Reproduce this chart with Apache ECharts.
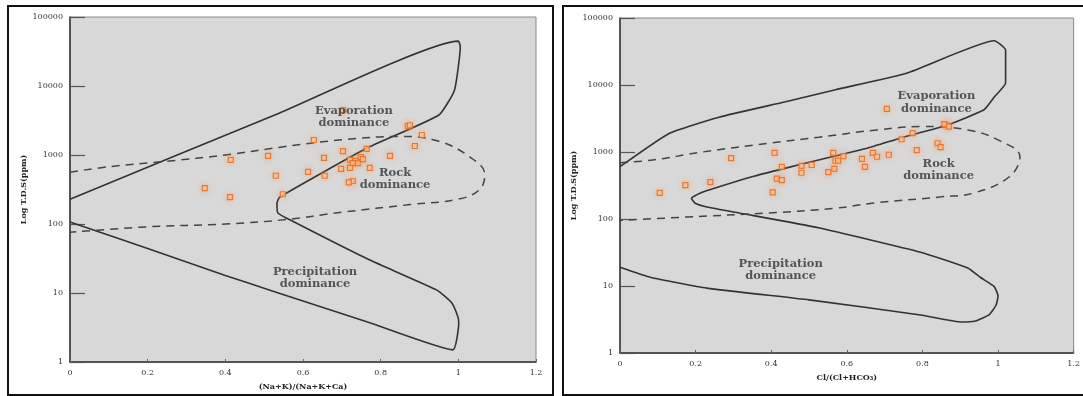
<!DOCTYPE html>
<html>
<head>
<meta charset="utf-8">
<script src="https://cdn.jsdelivr.net/npm/echarts@6/dist/echarts.min.js"></script>
<style>
  html, body { margin: 0; padding: 0; background: #fff; }
  #main { width: 1083px; height: 396px; }
</style>
</head>
<body>
<div id="main"></div>
<script>
// samples - left plot: (Na+K)/(Na+K+Ca) vs TDS
const naRatio = [0.870, 0.875, 0.906, 0.888, 0.628, 0.703, 0.764, 0.824, 0.414, 0.510,
  0.654, 0.721, 0.734, 0.741, 0.728, 0.749, 0.754, 0.698, 0.721, 0.772,
  0.613, 0.530, 0.656, 0.728, 0.718, 0.347, 0.412, 0.548, 0.703];
const tdsNa = [2630, 2700, 1950, 1350, 1650, 1140, 1230, 970, 850, 970,
  910, 850, 820, 760, 760, 930, 870, 630, 650, 650,
  570, 500, 500, 420, 400, 330, 245, 270, 4470];

// samples - right plot: Cl/(Cl+HCO3) vs TDS
const clRatio = [0.294, 0.409, 0.428, 0.480, 0.480, 0.507, 0.564, 0.591, 0.570, 0.577,
  0.567, 0.551, 0.640, 0.648, 0.415, 0.428, 0.404, 0.239, 0.173, 0.105,
  0.706, 0.864, 0.858, 0.870, 0.774, 0.745, 0.840, 0.848, 0.785, 0.669,
  0.680, 0.711];
const tdsCl = [810, 970, 600, 620, 490, 640, 970, 870, 740, 740,
  560, 500, 790, 600, 400, 380, 250, 355, 320, 245,
  4400, 2520, 2600, 2400, 1910, 1550, 1350, 1180, 1070, 970,
  850, 910];

// Gibbs boundaries
const leftBoundX = [0, 0.54, 1.0, 1.005, 0.99, 0.95, 0.765, 0.54, 0.533, 0.535, 0.566, 0.772,
  0.945, 0.983, 0.999, 1.001, 0.986, 0.772, 0.515, 0.4, 0.2, 0];
const leftBoundTds = [229, 4070, 44700, 37200, 8700, 3800, 1260, 245, 200, 145, 115, 30,
  11, 7.2, 4.5, 3.7, 1.5, 3.7, 11, 18, 44, 107];
const leftRockX = [0, 0.1, 0.25, 0.4, 0.55, 0.7, 0.85, 0.95, 1.03, 1.068, 1.055, 1.0,
  0.875, 0.7, 0.55, 0.4, 0.2, 0];
const leftRockTds = [562, 676, 813, 1000, 1318, 1660, 1862, 1585, 933, 525, 316, 229,
  191, 148, 115, 100, 91, 76];

const rightBoundX = [0, 0.131, 0.262, 0.438, 0.57, 0.76, 0.99, 1.02, 1.02, 0.99, 0.963, 0.864,
  0.743, 0.656, 0.525, 0.438, 0.349, 0.262, 0.21, 0.189, 0.2, 0.23, 0.315, 0.525,
  0.795, 0.92, 0.953, 0.99, 1.0, 0.995, 0.976, 0.94, 0.9, 0.866, 0.795, 0.5,
  0.23, 0.08, 0];
const rightBoundTds = [603, 1905, 3311, 5623, 8511, 15136, 45709, 33113, 10715, 6607, 4266, 2512,
  1622, 1148, 759, 575, 427, 302, 240, 204, 170, 151, 123, 74,
  32, 18.6, 13.5, 9.8, 7.1, 5.2, 3.7, 3.0, 2.9, 3.1, 3.7, 6.2,
  9.3, 13.5, 19];
const rightRockX = [0, 0.087, 0.218, 0.394, 0.525, 0.68, 0.8, 0.92, 1.0, 1.058, 1.03, 0.937,
  0.85, 0.675, 0.57, 0.394, 0.175, 0];
const rightRockTds = [692, 759, 1000, 1349, 1660, 2138, 2399, 2138, 1514, 851, 427, 245,
  214, 174, 145, 123, 107, 95];

// region labels
const leftZones = [
  { name: "Evaporation\ndominance", x: 0.731, y: 3550 },
  { name: "Rock\ndominance", x: 0.837, y: 447 },
  { name: "Precipitation\ndominance", x: 0.631, y: 16.5 },
];
const rightZones = [
  { name: "Evaporation\ndominance", x: 0.837, y: 5480 },
  { name: "Rock\ndominance", x: 0.843, y: 540 },
  { name: "Precipitation\ndominance", x: 0.425, y: 17.3 },
];
const yTicks = ["1", "10", "100", "1000", "10000", "100000"];

const zip = (xs, ys) => xs.map((x, i) => [x, ys[i]]);
const serif = "DejaVu Serif";

const chartDom = document.getElementById("main");
const myChart = echarts.init(chartDom, null, { renderer: "canvas" });

const makeX = (idx, name) => ({
  type: "value",
  gridIndex: idx,
  min: 0,
  max: 1.2,
  interval: 0.2,
  name: name,
  nameLocation: "middle",
  nameGap: 21,
  nameTextStyle: { fontFamily: serif, fontWeight: "bold", fontSize: 8, color: "#222" },
  axisLine: { show: true, lineStyle: { color: "#333", width: 1.5 } },
  axisTick: { show: true, inside: true, length: 3, lineStyle: { color: "#666" } },
  axisLabel: { fontFamily: serif, fontSize: 8, color: "#333", margin: 7 },
  splitLine: { show: false },
});

const makeY = (idx) => ({
  type: "log",
  logBase: 10,
  gridIndex: idx,
  min: 1,
  max: 100000,
  name: "Log T.D.S(ppm)",
  nameLocation: "middle",
  nameGap: 42,
  nameTextStyle: { fontFamily: serif, fontWeight: "bold", fontSize: 8, color: "#222" },
  axisLine: { show: true, lineStyle: { color: "#333", width: 1.5 } },
  axisTick: { show: true, inside: true, length: 15, lineStyle: { color: "#555", width: 1.2 } },
  axisLabel: {
    fontFamily: serif, fontSize: 8, color: "#333", margin: 7,
    formatter: (v) => yTicks[Math.round(Math.log10(v))],
  },
  splitLine: { show: false },
});

const boundary = (idx, data) => ({
  type: "line",
  xAxisIndex: idx,
  yAxisIndex: idx,
  data: data,
  symbol: "none",
  smooth: 0.15,
  silent: true,
  lineStyle: { color: "#333", width: 1.6 },
  z: 3,
});

const rockLine = (idx, data) => ({
  type: "line",
  xAxisIndex: idx,
  yAxisIndex: idx,
  data: data,
  symbol: "none",
  smooth: 0.4,
  silent: true,
  lineStyle: { color: "#444", width: 1.5, type: [8, 6] },
  z: 3,
});

const samples = (idx, data) => ({
  type: "scatter",
  xAxisIndex: idx,
  yAxisIndex: idx,
  data: data,
  symbol: "rect",
  symbolSize: 5,
  itemStyle: {
    color: "#f6c9a2",
    borderColor: "#e4661c",
    borderWidth: 1.2,
    shadowBlur: 5,
    shadowColor: "rgba(255,160,90,0.7)",
  },
  z: 4,
});

const zoneText = (idx, zones) => ({
  type: "scatter",
  xAxisIndex: idx,
  yAxisIndex: idx,
  symbolSize: 1,
  silent: true,
  itemStyle: { color: "rgba(0,0,0,0)" },
  data: zones.map((z) => ({ name: z.name, value: [z.x, z.y] })),
  label: {
    show: true,
    position: "inside",
    formatter: "{b}",
    fontFamily: serif,
    fontWeight: "bold",
    fontSize: 11.5,
    lineHeight: 12.5,
    color: "#333",
    align: "center",
  },
  z: 5,
});

const option = {
  animation: false,
  backgroundColor: "#fff",
  graphic: [
    { type: "rect", shape: { x: 8, y: 6, width: 545, height: 389 },
      style: { fill: "none", stroke: "#111", lineWidth: 2 } },
    { type: "rect", shape: { x: 563, y: 6, width: 530, height: 389 },
      style: { fill: "none", stroke: "#111", lineWidth: 2 } },
  ],
  grid: [
    { left: 70, top: 17, width: 466, height: 345, show: true,
      backgroundColor: "#d8d8d8", borderColor: "#888", borderWidth: 1 },
    { left: 620, top: 18, width: 457, height: 335, show: true,
      backgroundColor: "#d8d8d8", borderColor: "#888", borderWidth: 1 },
  ],
  xAxis: [makeX(0, "(Na+K)/(Na+K+Ca)"), makeX(1, "Cl/(Cl+HCO\u2083)")],
  yAxis: [makeY(0), makeY(1)],
  series: [
    boundary(0, zip(leftBoundX, leftBoundTds)),
    rockLine(0, zip(leftRockX, leftRockTds)),
    samples(0, zip(naRatio, tdsNa)),
    zoneText(0, leftZones),
    boundary(1, zip(rightBoundX, rightBoundTds)),
    rockLine(1, zip(rightRockX, rightRockTds)),
    samples(1, zip(clRatio, tdsCl)),
    zoneText(1, rightZones),
  ],
};

myChart.setOption(option);
</script>
</body>
</html>
